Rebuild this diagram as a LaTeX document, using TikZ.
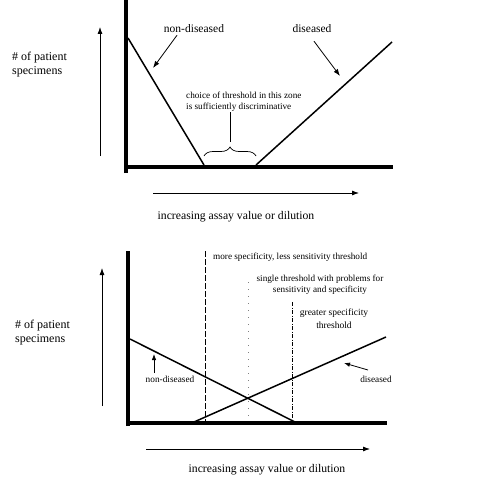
\documentclass[tikz,border=0pt]{standalone}
\usepackage{fontspec}
\setmainfont{Liberation Serif}
\usetikzlibrary{arrows.meta,decorations.pathreplacing}
\begin{document}
\begin{tikzpicture}[x=1pt,y=-1pt,
  axis/.style={line width=4.3pt},
  curve/.style={line width=1.5pt},
  arr/.style={line width=0.8pt,-{Latex[length=7pt,width=5pt]}},
  lbl/.style={inner sep=0pt,font=\fontsize{11.7}{14}\selectfont},
  ylbl/.style={inner sep=0pt,font=\fontsize{12}{14}\selectfont},
  small/.style={inner sep=0pt,font=\fontsize{9.2}{11.5}\selectfont},
  thr/.style={line width=0.9pt}]
\useasboundingbox (0,0) rectangle (478,500);
% ---------- top panel ----------
\coordinate (tY) at (126,0);
\coordinate (tX) at (393,167);
\draw[axis] (126,173) -- (tY);
\draw[axis] (124,167) -- (tX);
\coordinate (tua) at (100,156); \coordinate (tub) at (100,27);
\draw[arr] (tua) -- (tub);
\coordinate (tra) at (153,193); \coordinate (trb) at (359,193);
\draw[arr] (tra) -- (trb);
\node[ylbl,align=left,anchor=west] (tyl) at (12,65) {\# of patient\\specimens};
\node[lbl] (txl) at (236,217) {increasing assay value or dilution};
\coordinate (nd1) at (128,38); \coordinate (nd2) at (204,165);
\draw[curve] (nd1) -- (nd2);
\coordinate (d1) at (256,165); \coordinate (d2) at (392,42);
\draw[curve] (d1) -- (d2);
\node[lbl,font=\fontsize{11.5}{14}\selectfont] (ndl) at (194,29) {non-diseased};
\node[lbl,font=\fontsize{11.5}{14}\selectfont] (dl) at (312,29) {diseased};
\coordinate (nda) at (153,68); \coordinate (da) at (340,76);
\draw[arr] (ndl.south -| 177,0) ++(0,2) -- (nda);
\draw[arr] (dl.south -| 314,0) ++(0,8) -- (da);
\node[small,align=left,anchor=west] (ch) at (186,102) {choice of threshold in this zone\\is sufficiently discriminative};
\coordinate (b1) at (204,156); \coordinate (b2) at (256,156);
\draw[line width=0.7pt,decorate,decoration={brace,amplitude=9pt}] (b1) -- (b2);
\draw[line width=0.7pt] (230,142) -- (230,112);
% ---------- bottom panel ----------
\coordinate (bY) at (128,251);
\coordinate (bX) at (387,423);
\draw[axis] (128,426) -- (bY);
\draw[axis] (126,423) -- (bX);
\coordinate (bua) at (102,406); \coordinate (bub) at (102,268);
\draw[arr] (bua) -- (bub);
\coordinate (bra) at (146,449); \coordinate (brb) at (370,449);
\draw[arr] (bra) -- (brb);
\node[ylbl,align=left,anchor=west] (byl) at (15,333) {\# of patient\\specimens};
\node[lbl] (bxl) at (267,470) {increasing assay value or dilution};
\coordinate (bn1) at (130,339); \coordinate (bn2) at (295,422);
\draw[curve] (bn1) -- (bn2);
\coordinate (bd1) at (194,422); \coordinate (bd2) at (386,337);
\draw[curve] (bd1) -- (bd2);
% thresholds
\coordinate (t1a) at (205,251); \coordinate (t1b) at (205,421);
\draw[thr,dash pattern=on 6pt off 2pt] (t1a) -- (t1b);
\coordinate (t2a) at (248,282); \coordinate (t2b) at (248,421);
\draw[thr,line width=0.6pt,gray,dash pattern=on 1pt off 6pt] (t2a) -- (t2b);
\coordinate (t3a) at (292,302); \coordinate (t3b) at (292,421);
\draw[thr,dash pattern=on 4pt off 1.5pt on 1pt off 1.5pt] (t3a) -- (t3b);
\node[small,anchor=west] (m1) at (213,257) {more specificity, less sensitivity threshold};
\node[small,align=center] (m2) at (320,285) {single threshold with problems for\\sensitivity and specificity};
\node[small,align=center,font=\fontsize{9.5}{13}\selectfont] (m3) at (334,319) {greater specificity\\threshold};
\node[small,font=\fontsize{9.3}{11}\selectfont] (bndl) at (170,379) {non-diseased};
\node[small,font=\fontsize{9.3}{11}\selectfont] (bdl) at (376,379) {diseased};
\coordinate (bnda) at (154,354); \coordinate (bda) at (344,363);
\draw[arr,-{Latex[length=6pt,width=4.5pt]}] (154,373) -- (bnda);
\draw[arr,-{Latex[length=6pt,width=4.5pt]}] (368,370) -- (bda);
\end{tikzpicture}
\end{document}
